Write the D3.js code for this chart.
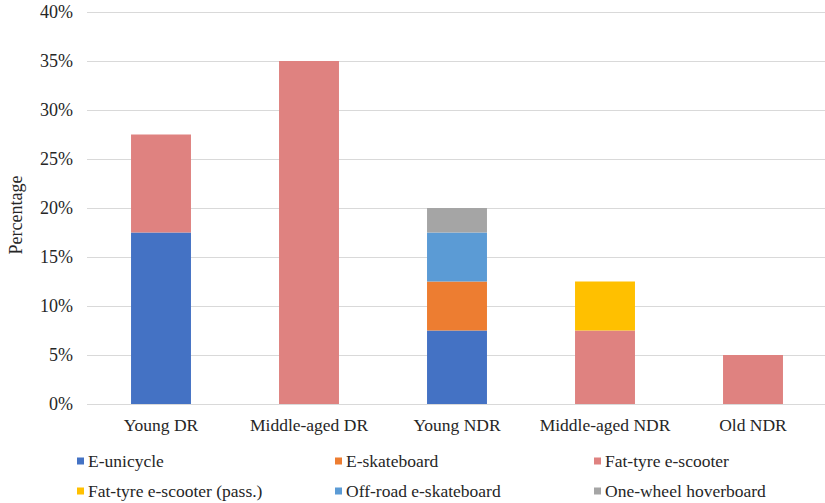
<!DOCTYPE html>
<html>
<head>
<meta charset="utf-8">
<script src="https://cdn.jsdelivr.net/npm/d3@7"></script>
<style>
  html, body { margin: 0; padding: 0; background: #fff; }
  svg text { font-family: "Liberation Serif", "Times New Roman", serif; fill: #262626; }
</style>
</head>
<body>
<svg id="chart" width="825" height="503"></svg>
<script>
// Rider groups along the x axis
const categories = ["Young DR", "Middle-aged DR", "Young NDR", "Middle-aged NDR", "Old NDR"];

// Vehicle types, in stacking order (bottom to top)
const seriesNames = [
  "E-unicycle",
  "E-skateboard",
  "Fat-tyre e-scooter",
  "Fat-tyre e-scooter (pass.)",
  "Off-road e-skateboard",
  "One-wheel hoverboard"
];
const seriesColors = ["#4472C4", "#ED7D31", "#DF8280", "#FFC000", "#5B9BD5", "#A5A5A5"];

// Share of each group (%), one array per vehicle type
const eUnicycle    = [17.5, 0, 7.5, 0, 0];
const eSkateboard  = [0, 0, 5, 0, 0];
const fatTyre      = [10, 35, 0, 7.5, 5];
const fatTyrePass  = [0, 0, 0, 5, 0];
const offRoadSkate = [0, 0, 5, 0, 0];
const oneWheel     = [0, 0, 2.5, 0, 0];

const yTicks = [0, 5, 10, 15, 20, 25, 30, 35, 40];

const seriesValues = [eUnicycle, eSkateboard, fatTyre, fatTyrePass, offRoadSkate, oneWheel];
const rows = categories.map((c, i) => {
  const r = { category: c };
  seriesNames.forEach((s, k) => { r[s] = seriesValues[k][i]; });
  return r;
});

const FONT = "'Liberation Serif', 'Times New Roman', serif";

const svg = d3.select("#chart");
const plot = { left: 87, right: 827, top: 12, bottom: 404 };

const x = d3.scaleBand()
  .domain(categories)
  .range([plot.left, plot.right])
  .paddingInner(0.595)
  .paddingOuter(0.2975);

const y = d3.scaleLinear().domain([0, 40]).range([plot.bottom, plot.top]);

// Horizontal gridlines
svg.append("g")
  .selectAll("line")
  .data(yTicks)
  .join("line")
  .attr("x1", plot.left)
  .attr("x2", 825)
  .attr("y1", d => Math.round(y(d)) + 0.5)
  .attr("y2", d => Math.round(y(d)) + 0.5)
  .attr("stroke", "#d9d9d9")
  .attr("stroke-width", 1);

// Y axis labels
const yAxis = svg.append("g")
  .attr("transform", `translate(${plot.left},0)`)
  .call(d3.axisLeft(y).tickValues(yTicks).tickFormat(d => d + "%").tickSize(0).tickPadding(14));
yAxis.attr("font-family", FONT).attr("font-size", 18);
yAxis.select(".domain").remove();
yAxis.selectAll("text").attr("fill", "#262626");

// Stacked bars
const stack = d3.stack().keys(seriesNames);
const layers = stack(rows);

svg.append("g")
  .selectAll("g")
  .data(layers)
  .join("g")
  .attr("fill", (d, i) => seriesColors[i])
  .selectAll("rect")
  .data(d => d.filter(p => p[1] - p[0] > 0))
  .join("rect")
  .attr("x", d => x(d.data.category))
  .attr("width", x.bandwidth())
  .attr("y", d => y(d[1]))
  .attr("height", d => y(d[0]) - y(d[1]));

// X axis labels
const xAxis = svg.append("g")
  .attr("transform", `translate(0,${plot.bottom})`)
  .call(d3.axisBottom(x).tickSize(0).tickPadding(15));
xAxis.attr("font-family", FONT).attr("font-size", 17.5);
xAxis.select(".domain").remove();
xAxis.selectAll("text").attr("fill", "#262626");

// Y axis title
svg.append("text")
  .attr("transform", `translate(22,${(plot.top + plot.bottom) / 2 + 7}) rotate(-90)`)
  .attr("text-anchor", "middle")
  .attr("font-family", FONT)
  .attr("font-size", 18)
  .text("Percentage");

// Legend: three columns, two rows
const legendCols = [77, 335, 594];
const legendRows = [461, 491];
const legend = svg.append("g")
  .attr("font-family", FONT)
  .attr("font-size", 17.5)
  .selectAll("g")
  .data(seriesNames)
  .join("g")
  .attr("transform", (d, i) => `translate(${legendCols[i % 3]},${legendRows[Math.floor(i / 3)]})`);
legend.append("rect")
  .attr("x", 0).attr("y", -3.5)
  .attr("width", 7).attr("height", 7)
  .attr("fill", (d, i) => seriesColors[i]);
legend.append("text")
  .attr("x", 11)
  .attr("y", 6)
  .text(d => d);
</script>
</body>
</html>
